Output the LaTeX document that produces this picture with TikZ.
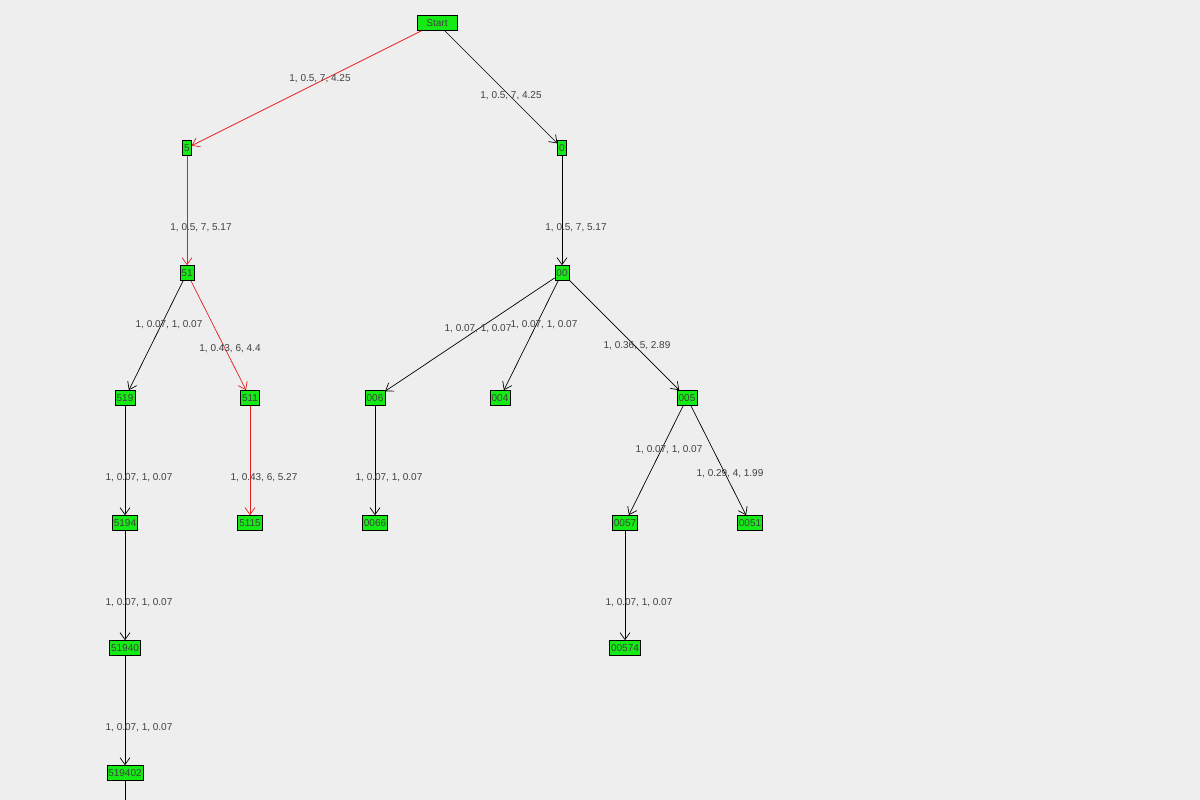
\documentclass[tikz,border=0pt]{standalone}
\usepackage{fontspec}
\setmainfont{Liberation Sans}
\usetikzlibrary{arrows.meta}
\definecolor{bgc}{RGB}{238,238,238}
\definecolor{boxc}{RGB}{20,235,20}
\definecolor{pathc}{RGB}{230,30,30}
\tikzset{state/.style={rectangle, fill=boxc, draw=black, line width=0.6pt, inner sep=1.5pt, minimum height=15pt, text=black!75, font=\fontsize{10}{12}\selectfont},
  edge/.style={draw, line width=0.7pt, -{Straight Barb[length=7pt,width=10pt]}, black},
  best/.style={edge, pathc},
  lbl/.style={font=\fontsize{10}{12}\selectfont, text=black!75, inner sep=0pt}}
\begin{document}
\begin{tikzpicture}[x=1pt, y=-1pt]
  \fill[bgc] (0,0) rectangle (1200,800);
  \useasboundingbox (0,0) rectangle (1200,800);

  \node[state, minimum width=40pt] (start) at (437,23) {Start};
  \node[state] (n5) at (187,148) {5};
  \node[state] (n0) at (562,148) {0};
  \node[state] (n51) at (187,273) {51};
  \node[state] (n00) at (562,273) {00};
  \node[state] (n519) at (125,398) {519};
  \node[state] (n511) at (250,398) {511};
  \node[state] (n006) at (375,398) {006};
  \node[state] (n004) at (500,398) {004};
  \node[state] (n005) at (687,398) {005};
  \node[state] (n5194) at (125,523) {5194};
  \node[state] (n5115) at (250,523) {5115};
  \node[state] (n0066) at (375,523) {0066};
  \node[state] (n0057) at (625,523) {0057};
  \node[state] (n0051) at (750,523) {0051};
  \node[state] (n51940) at (125,648) {51940};
  \node[state] (n00574) at (625,648) {00574};
  \node[state] (n519402) at (125,773) {519402};
  \coordinate (below) at (125,810);

  % best path
  \draw[best] (start) -- (n5);
  \draw[best] (n5) -- (n51);
  \draw[best] (n51) -- (n511);
  \draw[best] (n511) -- (n5115);

  \draw[edge] (start) -- (n0);
  \draw[edge] (n0) -- (n00);
  \draw[edge] (n51) -- (n519);
  \draw[edge] (n00) -- (n006);
  \draw[edge] (n00) -- (n004);
  \draw[edge] (n00) -- (n005);
  \draw[edge] (n519) -- (n5194);
  \draw[edge] (n006) -- (n0066);
  \draw[edge] (n005) -- (n0057);
  \draw[edge] (n005) -- (n0051);
  \draw[edge] (n5194) -- (n51940);
  \draw[edge] (n0057) -- (n00574);
  \draw[edge] (n51940) -- (n519402);
  \draw[edge, -] (n519402) -- (below);

  \node[lbl] (l1) at (320,79) {1, 0.5, 7, 4.25};
  \node[lbl] (l2) at (511,96) {1, 0.5, 7, 4.25};
  \node[lbl] (l3) at (201,228) {1, 0.5, 7, 5.17};
  \node[lbl] (l4) at (576,228) {1, 0.5, 7, 5.17};
  \node[lbl] (l5) at (169,325) {1, 0.07, 1, 0.07};
  \node[lbl] (l6) at (230,349) {1, 0.43, 6, 4.4};
  \node[lbl] (l7) at (478,329) {1, 0.07, 1, 0.07};
  \node[lbl] (l8) at (544,325) {1, 0.07, 1, 0.07};
  \node[lbl] (l9) at (637,346) {1, 0.36, 5, 2.89};
  \node[lbl] (l10) at (139,478) {1, 0.07, 1, 0.07};
  \node[lbl] (l11) at (264,478) {1, 0.43, 6, 5.27};
  \node[lbl] (l12) at (389,478) {1, 0.07, 1, 0.07};
  \node[lbl] (l13) at (669,450) {1, 0.07, 1, 0.07};
  \node[lbl] (l14) at (730,474) {1, 0.29, 4, 1.99};
  \node[lbl] (l15) at (139,603) {1, 0.07, 1, 0.07};
  \node[lbl] (l16) at (639,603) {1, 0.07, 1, 0.07};
  \node[lbl] (l17) at (139,728) {1, 0.07, 1, 0.07};
\end{tikzpicture}
\end{document}
